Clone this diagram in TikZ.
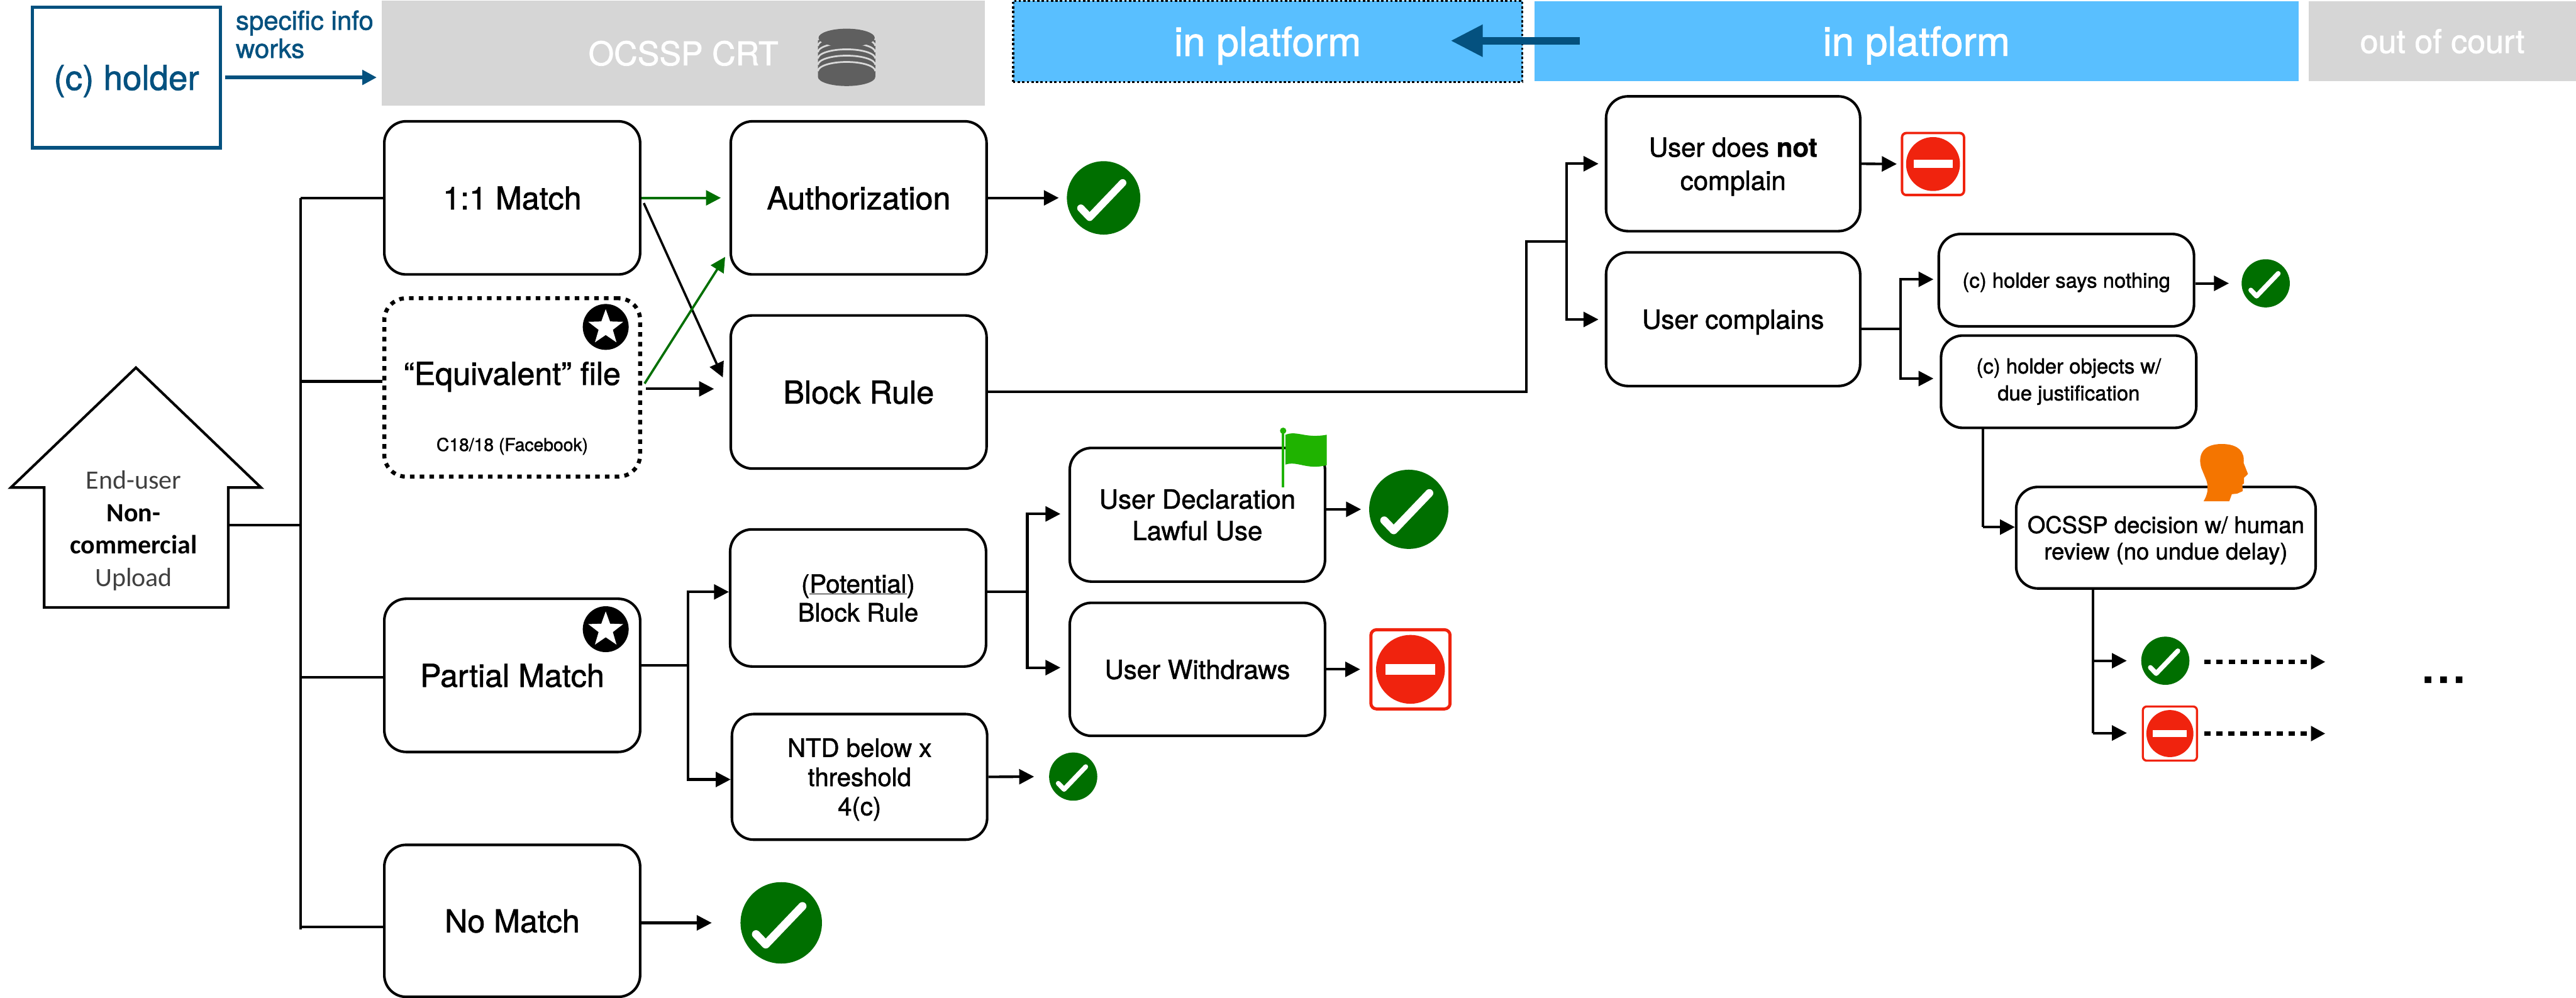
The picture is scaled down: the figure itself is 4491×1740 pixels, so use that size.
\documentclass[tikz,border=0pt]{standalone}
\usepackage{fontspec}
\setmainfont{TeX Gyre Heros}[FakeBold=1.4]
\newfontfamily\carl{Carlito}
\usetikzlibrary{arrows.meta,shapes.geometric,calc}
\definecolor{holderblue}{HTML}{04517F}
\definecolor{platblue}{HTML}{59BFFF}
\definecolor{pgray}{HTML}{D6D6D6}
\definecolor{okgreen}{HTML}{006F00}
\definecolor{stopred}{HTML}{F0230E}
\definecolor{flaggreen}{HTML}{1FB300}
\definecolor{headorange}{HTML}{F47500}
\definecolor{dbgray}{HTML}{5F5F5F}
\newcommand{\fs}[2]{\fontsize{#1}{#2}\selectfont}
\tikzset{
 bx/.style={draw=black,line width=4.5pt,rounded corners=38pt,fill=white,inner sep=0pt,align=center,text depth=0pt},
 bigbx/.style={bx,minimum width=446pt,minimum height=267pt,font=\fs{55}{66}},
 conn/.style={line width=4.5pt,line join=miter},
 arr/.style={conn,-{Triangle[length=26pt,width=26pt]}},
 garr/.style={arr,draw=okgreen,-{Triangle[length=26pt,width=26pt,fill=okgreen]}},
 hdr/.style={inner sep=0pt,text=white,text depth=0pt},
}
\newcommand{\checkicon}[4]{%
 \node[circle,fill=okgreen,minimum size=#4*2pt,inner sep=0pt] (#1) at (#2,#3) {};
 \draw[white,line width=#4*0.2pt,line cap=round,line join=round]
   (#2-#4*0.62,#3+#4*0.28) -- (#2-#4*0.38,#3+#4*0.53) -- (#2+#4*0.52,#3-#4*0.41);
}
\newcommand{\stopicon}[4]{%
 \node[draw=stopred,fill=white,line width=#4*0.09pt,rounded corners=#4*0.16pt,minimum size=#4*2.3pt,inner sep=0pt] (#1) at (#2,#3) {};
 \fill[stopred] (#2,#3) circle[radius=#4];
 \fill[white] (#2-#4*0.72,#3-#4*0.15) rectangle (#2+#4*0.72,#3+#4*0.15);
}
\newcommand{\staricon}[3]{%
 \fill[black] (#2,#3) circle[radius=40];
 \node[star,star points=5,star point ratio=2.45,fill=white,minimum size=64pt,inner sep=0pt] (#1) at (#2,#3+1) {};
}
\begin{document}
\begin{tikzpicture}[x=1pt,y=-1pt]
\useasboundingbox (0,0) rectangle (4491,1740);
\fill[white] (0,0) rectangle (4491,1740);
% headers
\node[fill=pgray,hdr,minimum width=1051pt,minimum height=183pt,font=\fs{57}{66}] (ocssp) at (1191.5,92.5) {OCSSP CRT};
\node[fill=platblue,hdr,draw=black,line width=4pt,dash pattern=on 4pt off 4pt,minimum width=888pt,minimum height=142pt,font=\fs{70}{80}] (plat1) at (2210,72) {in platform};
\node[fill=platblue,hdr,minimum width=1332pt,minimum height=139pt,font=\fs{70}{80}] (plat2) at (3341,71.5) {in platform};
\node[fill=pgray,hdr,minimum width=466pt,minimum height=139pt,font=\fs{57}{66}] (court) at (4258,71.5) {out of court};
% database
\begin{scope}
 \fill[dbgray] (1426,70) -- (1526,70) -- (1526,134) arc[start angle=0,end angle=180,x radius=50,y radius=16] -- cycle;
 \foreach \yy in {124,113,102,91,80,67}
  \draw[white!85!black,line width=3pt] (1426,\yy) arc[start angle=180,end angle=360,x radius=50,y radius=16];
 \fill[dbgray] (1476,66) ellipse[x radius=49,y radius=16];
\end{scope}
% holder
\node[draw=holderblue,line width=6pt,minimum width=328pt,minimum height=245pt,text=holderblue,font=\fs{60}{70},inner sep=0pt,text depth=0pt] (holder) at (220.5,135) {(c) holder};
\node[anchor=west,align=left,text=holderblue,font=\fs{46}{49},inner sep=0pt] (spec) at (411,60) {specific info\\works};
\draw[line width=6pt,draw=holderblue,-{Triangle[length=25pt,width=25pt]},shorten <=5pt,shorten >=9pt] (holder.east) -- (holder.east -| ocssp.west);
% big arrow
\coordinate (ba1) at (2754,71); \coordinate (ba2) at (2529,71);
\draw[line width=13pt,draw=holderblue,-{Triangle[length=56pt,width=53pt]}] (ba1) -- (ba2);
% boxes
\node[bigbx] (match) at (893,345) {1:1 Match};
\node[bigbx] (auth) at (1497,345) {Authorization};
\node[bx,dash pattern=on 8pt off 9pt,line width=7pt,minimum width=446pt,minimum height=311pt] (equiv) at (893,675.5) {};
\node[inner sep=0pt,font=\fs{55}{66}] (equivt) at (893,657) {“Equivalent” file};
\node[inner sep=0pt,font=\fs{31}{36}] (equivc) at (893,778) {C18/18 (Facebook)};
\node[bigbx] (block) at (1497,683.5) {Block Rule};
\node[bigbx] (partial) at (893,1177.5) {Partial Match};
\node[bigbx,minimum height=265pt] (nomatch) at (893,1605.5) {No Match};
\node[bx,minimum width=446pt,minimum height=239pt,font=\fs{44}{50}] (pot) at (1496,1042.5) {(\underline{Potential})\\Block Rule};
\node[bx,minimum width=445pt,minimum height=219pt,font=\fs{44}{51}] (ntd) at (1498.5,1354.5) {NTD below x\\threshold\\4(c)};
\node[bx,minimum width=445pt,minimum height=233pt,font=\fs{46}{55}] (decl) at (2087.5,897.5) {User Declaration\\Lawful Use};
\node[bx,minimum width=445pt,minimum height=232pt,font=\fs{46}{55}] (withd) at (2087.5,1167) {User Withdraws};
\node[bx,minimum width=443pt,minimum height=235pt,font=\fs{46}{58}] (notc) at (3021.5,285.5) {User does \textbf{not}\\complain};
\node[bx,minimum width=443pt,minimum height=233pt,font=\fs{46}{58}] (comp) at (3021.5,556.5) {User complains};
\node[bx,minimum width=445pt,minimum height=161pt,font=\fs{36}{47}] (says) at (3602.5,488.5) {(c) holder says nothing};
\node[bx,minimum width=445pt,minimum height=161pt,font=\fs{36}{47},text depth=8pt] (obj) at (3606.5,665.5) {(c) holder objects w/\\due justification};
\node[bx,minimum width=522pt,minimum height=177pt,font=\fs{40}{46}] (dec) at (3776,937.5) {OCSSP decision w/ human\\review (no undue delay)};
% house
\draw[line width=4.5pt,line join=miter,fill=white] (237,641) -- (455,850) -- (398,850) -- (398,1059) -- (77,1059) -- (77,850) -- (19,850) -- cycle;
\node[minimum width=321pt,minimum height=209pt,inner sep=0pt] (house) at (237.5,954.5) {};
\node[align=center,inner sep=0pt,font={\carl\fs{46}{56.5}}] (houset) at (233,925) {\textcolor{black!75}{End-user}\\\textbf{Non-}\\\textbf{commercial}\\\textcolor{black!75}{Upload}};
% stars
\staricon{star1}{1056}{570}
\staricon{star2}{1056}{1097}
% icons
\checkicon{ck1}{1924}{345}{64}
\checkicon{ck2}{2456}{888}{69}
\checkicon{ck3}{1871}{1354}{42}
\checkicon{ck4}{1362}{1609}{71}
\checkicon{ck5}{3950}{494}{42}
\checkicon{ck6}{3775}{1152}{42}
\stopicon{st1}{3370}{286}{47}
\stopicon{st2}{2459}{1167}{60}
\stopicon{st3}{3783}{1279}{41}
% trunk
\coordinate (ta) at (524,345); \coordinate (tb) at (524,1620); \coordinate (tc) at (524,916);
\draw[conn] (ta) -- (tb);
\draw[conn] (ta) -- (match.west);
\draw[conn] (524,665) -- (equiv.west |- 0,665);
\draw[conn] (524,1181) -- (partial.west |- 0,1181);
\draw[conn] (524,1616) -- (nomatch.west |- 0,1616);
\draw[conn] (house.east |- tc) -- (tc);
% match arrows
\draw[garr] (match.east) -- (auth.west) [shorten >=15pt];
\draw[arr,line width=4pt,shorten <=10pt,shorten >=28pt] (match.east) -- (block.west);
\draw[garr,line width=4pt,shorten <=8pt,shorten >=14pt] (equiv.east) -- (auth.202);
\draw[arr,shorten <=7pt,shorten >=27pt] (equiv.east |- 0,678) -- (block.west |- 0,678);
% outputs
\draw[arr,shorten >=14pt] (auth.east) -- (ck1.west);
\draw[arr,shorten >=50pt] (nomatch.east |- ck4.west) -- (ck4.west);
\draw[arr,shorten >=14pt] (decl.east |- ck2.west) -- (ck2.west);
\draw[arr,shorten >=16pt] (withd.east) -- (st2.west);
\draw[arr,shorten >=26pt] (ntd.east) -- (ck3.west);
\draw[arr,shorten >=7pt] (notc.east) -- (st1.west);
\draw[arr,shorten >=22pt] (says.east |- ck5.west) -- (ck5.west);
% partial fork
\coordinate (f1) at (1199,1160);
\draw[conn] (partial.east |- f1) -- (f1);
\draw[arr] (f1) |- (pot.west |- 0,1032);
\draw[arr] (f1) |- (ntd.west |- 0,1359);
% potential fork
\coordinate (f2) at (1791,1032);
\draw[conn] (pot.east |- f2) -- (f2);
\draw[arr,shorten >=14pt] (f2) |- (decl.west |- 0,896);
\draw[arr,shorten >=14pt] (f2) |- (withd.west |- 0,1164);
% block rule route
\coordinate (f3) at (2661,421); \coordinate (f4) at (2731,421);
\draw[conn] (block.east) -- (2661,683.5) -- (f3) -- (f4);
\draw[arr,shorten >=11pt] (f4) |- (notc.west);
\draw[arr,shorten >=11pt] (f4) |- (comp.west |- 0,557);
% complains fork
\coordinate (f5) at (3313,573);
\draw[conn] (comp.east |- f5) -- (f5);
\draw[arr,shorten >=7pt] (f5) |- (says.west |- 0,487);
\draw[arr,shorten >=11pt] (f5) |- (obj.west |- 0,660);
% objects to decision
\coordinate (f6) at (3457,919);
\draw[conn] (f6 |- obj.south) -- (f6);
\draw[arr] (f6) -- (dec.west |- f6);
% decision fork
\coordinate (f7) at (3649,1278);
\draw[conn] (f7 |- dec.south) -- (f7);
\draw[arr,shorten >=25pt] (3649,1152) -- (ck6.west);
\draw[arr,shorten >=26pt] (f7) -- (st3.west |- f7);
% dotted arrows
\coordinate (e1) at (4054,1154); \coordinate (e2) at (4054,1279);
\draw[line width=8pt,dash pattern=on 11pt off 10pt,-{Triangle[length=25pt,width=25pt]},shorten <=26pt] (ck6.east |- e1) -- (e1);
\draw[line width=8pt,dash pattern=on 11pt off 10pt,-{Triangle[length=25pt,width=25pt]},shorten <=11pt] (st3.east |- e2) -- (e2);
\node[inner sep=0pt,font=\fs{98}{110}] (dots) at (4260,1185) {...};
% flag
\draw[flaggreen,line width=4.7pt] (2237,751) -- (2237,850);
\fill[flaggreen] (2237,751) circle[radius=5.5];
\fill[flaggreen] (2241,758) .. controls (2262,750) and (2275,765) .. (2313,758) -- (2313,811) .. controls (2278,820) and (2262,803) .. (2241,810) -- cycle;
% head
\begin{scope}[shift={(3300,700)},x=0.7596pt,y=-0.4464pt]
 \fill[headorange] (713,390) .. controls (722,365) and (725,340) .. (720,310) -- (708,260)
  .. controls (700,215) and (708,166) .. (755,166) .. controls (795,166) and (808,200) .. (805,240)
  -- (815,283) -- (806,298) -- (806,320) -- (802,325) -- (803,350) -- (790,360) -- (778,362) -- (772,390) -- cycle;
\end{scope}
\end{tikzpicture}
\end{document}
